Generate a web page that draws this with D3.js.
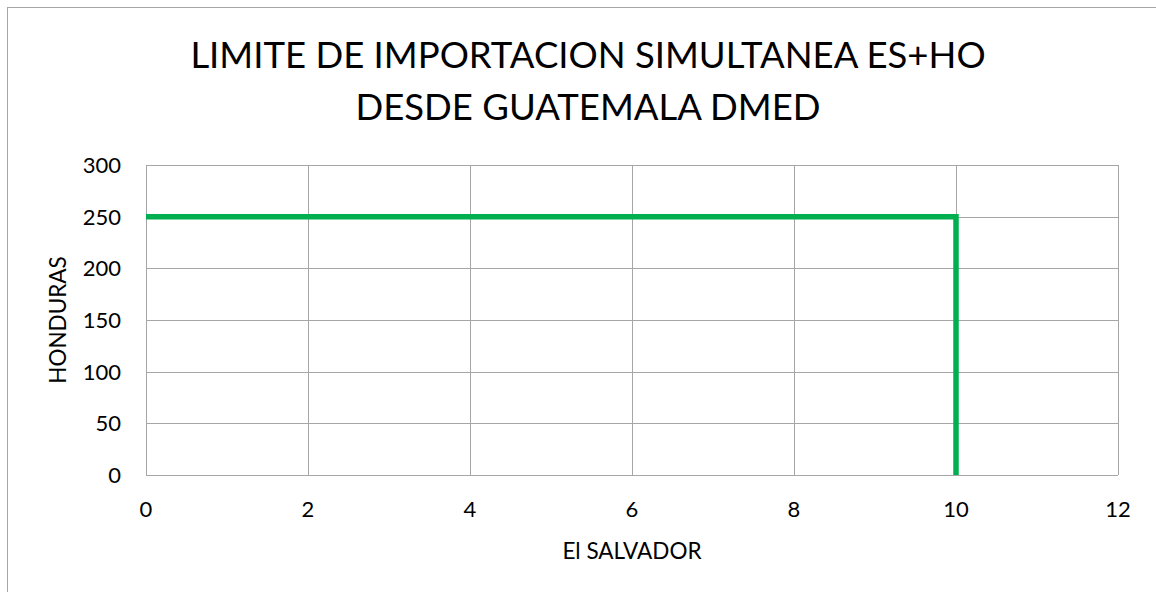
<!DOCTYPE html>
<html><head><meta charset="utf-8">
<script src="https://cdn.jsdelivr.net/npm/d3@7"></script>
<style>body{margin:0;background:#fff}svg{display:block}</style>
</head><body><svg id="c" width="1156" height="592"></svg>
<script>
const xValues = [0, 10, 10];
const yValues = [250, 250, 0];
const xTicks = [0, 2, 4, 6, 8, 10, 12];
const yTicks = [0, 50, 100, 150, 200, 250, 300];
const titleLines = ["LIMITE DE IMPORTACION SIMULTANEA ES+HO", "DESDE GUATEMALA DMED"];
const xLabel = "El SALVADOR";
const yLabel = "HONDURAS";

const svg = d3.select("#c");
const font = "Lato, 'Open Sans', sans-serif";
svg.append("rect").attr("x",7.5).attr("y",7.5).attr("width",1160).attr("height",600)
  .attr("fill","#fff").attr("stroke","#a6a6a6").attr("stroke-width",1);

const x = d3.scaleLinear().domain([0,12]).range([146,1118]);
const y = d3.scaleLinear().domain([0,300]).range([475,165]);

const g = svg.append("g");
g.selectAll(".gx").data(xTicks).join("line")
  .attr("x1",d=>Math.round(x(d))+0.5).attr("x2",d=>Math.round(x(d))+0.5)
  .attr("y1",y(300)).attr("y2",y(0)).attr("stroke","#a6a6a6");
g.selectAll(".gy").data(yTicks).join("line")
  .attr("y1",d=>Math.round(y(d))+0.5).attr("y2",d=>Math.round(y(d))+0.5)
  .attr("x1",x(0)).attr("x2",x(12)).attr("stroke","#a6a6a6");

g.selectAll(".tx").data(xTicks).join("text")
  .attr("x",d=>x(d)).attr("y",517).attr("text-anchor","middle")
  .attr("font-family",font).attr("font-size",22).attr("fill","#000").text(d=>d);
g.selectAll(".ty").data(yTicks).join("text")
  .attr("x",121).attr("y",d=>y(d)+8).attr("text-anchor","end")
  .attr("font-family",font).attr("font-size",22).attr("fill","#000").text(d=>d);

const pts = xValues.map((v,i)=>[v,yValues[i]]);
g.append("path").datum(pts)
  .attr("d", d3.line().x(d=>x(d[0])).y(d=>y(d[1])))
  .attr("fill","none").attr("stroke","#00B050").attr("stroke-width",5.5)
  .attr("stroke-linejoin","miter");

svg.selectAll(".title").data(titleLines).join("text")
  .attr("x",588).attr("y",(d,i)=>68+i*52).attr("text-anchor","middle")
  .attr("font-family",font).attr("font-size",36.5).attr("fill","#000").text(d=>d);

svg.append("text").attr("x",632).attr("y",559).attr("text-anchor","middle")
  .attr("font-family",font).attr("font-size",22.5).attr("fill","#000").text(xLabel);
svg.append("text").attr("transform","translate(66,320) rotate(-90)").attr("text-anchor","middle")
  .attr("font-family",font).attr("font-size",22.5).attr("fill","#000").text(yLabel);
</script></body></html>
